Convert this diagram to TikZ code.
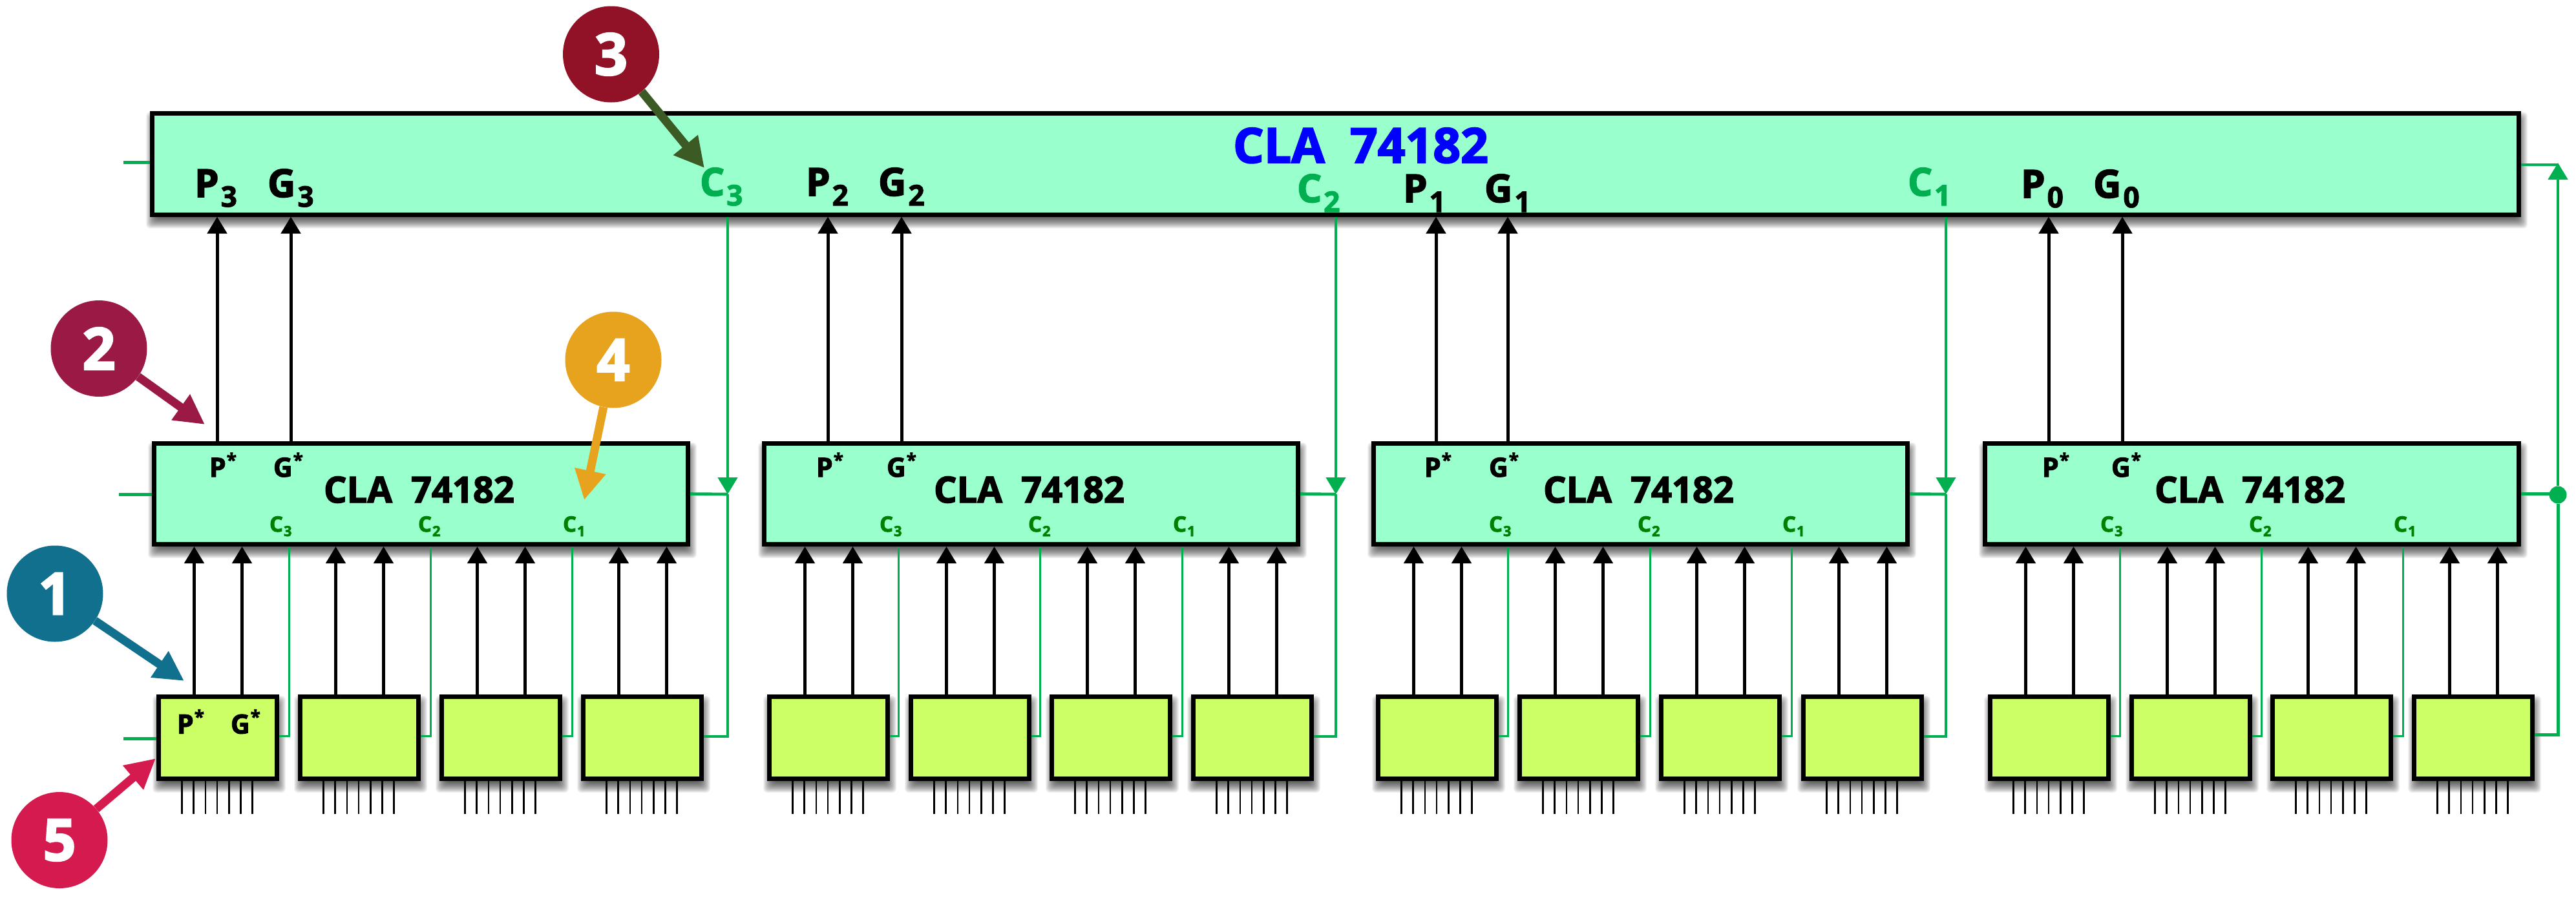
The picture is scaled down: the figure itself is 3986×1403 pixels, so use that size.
\documentclass[tikz,border=0pt]{standalone}
\usepackage{fontspec}
\setmainfont{Open Sans}[BoldFeatures={FakeBold=2.6}]
\usetikzlibrary{arrows.meta}
\pgfdeclarelayer{bg}
\pgfsetlayers{bg,main}
\definecolor{boxgreen}{HTML}{99FFCC}
\definecolor{lime}{HTML}{CCFF66}
\definecolor{wire}{HTML}{00B050}
\definecolor{dkgreen}{HTML}{008000}
\definecolor{cOne}{HTML}{12708F}
\definecolor{cTwo}{HTML}{9B1A45}
\definecolor{cThree}{HTML}{911226}
\definecolor{cFour}{HTML}{E8A31E}
\definecolor{cFive}{HTML}{D41A4E}
\definecolor{aThree}{HTML}{3C5A24}
\newcommand{\fs}[1]{\fontsize{#1pt}{#1pt}\selectfont\bfseries}
\newcommand{\bigsym}[3]{{\fs{60}#1\kern#3pt\raisebox{-15pt}{\fs{44}#2}}}
\newcommand{\midstar}[1]{{\fs{41}#1\kern1pt\raisebox{16pt}{\fs{28}*}}}
\newcommand{\midc}[1]{{\fs{33}C\kern1pt\raisebox{-7pt}{\fs{22}#1}}}
\newcommand{\softshadow}[1]{%
  \begin{pgfonlayer}{bg}
  \foreach \e in {-9,-8,...,8}{
    \fill[black,opacity=.05,rounded corners=6pt]
      ([shift={(2pt-\e pt,\e pt-10pt)}]#1.north west) rectangle ([shift={(2pt+\e pt,-10pt-\e pt)}]#1.south east);
  }
  \end{pgfonlayer}}
\tikzset{
  x=1pt,y=-1pt,
  bigbox/.style={draw=black,line width=7pt,fill=boxgreen,inner sep=0pt},
  smallbox/.style={draw=black,line width=7pt,fill=lime,inner sep=0pt,minimum width=183pt,minimum height=127pt},
  modbox/.style={bigbox,minimum width=826pt,minimum height=156pt},
  txt/.style={inner sep=0pt,outer sep=0pt,anchor=base west},
  blk/.style={draw=black,line width=5pt,-{Triangle[length=26pt,width=30pt]}},
  gwire/.style={draw=wire,line width=4.6pt},
  thin wire/.style={draw=wire,line width=3pt},
  garrow/.style={gwire,-{Triangle[length=26pt,width=30pt]}},
  pin/.style={draw=black,line width=2.6pt},
  badge/.style={circle,inner sep=0pt,minimum size=149pt,text=white,font=\fs{90}},
}
\begin{document}
\begin{tikzpicture}
\useasboundingbox (0,0) rectangle (3986,1403);
% top unit
\node[bigbox,minimum width=3662pt,minimum height=157pt] (T) at (2066.5,253.5) {};
\softshadow{T}
% second level modules
\foreach \g/\L in {1/235,2/1179,3/2122,4/3068}{
  \node[modbox,anchor=north west] (m\g) at (\L,683) {};
  \softshadow{m\g}
}
% first level blocks
\foreach \g/\a/\b/\c/\d in {1/242/461/680/899,2/1187/1406/1624/1843,3/2129/2348/2567/2787,4/3076/3295/3513/3732}{
  \foreach \i/\x in {1/\a,2/\b,3/\c,4/\d}{
    \node[smallbox,anchor=north west] (s\g\i) at (\x,1075) {};
    \softshadow{s\g\i}
  }
}
% black P/G buses from blocks to modules, and pins
\foreach \g in {1,2,3,4}{
  \foreach \i in {1,2,3,4}{
    \foreach \o in {58.5,132.5}{
      \coordinate (pa) at ([xshift=\o pt]s\g\i.north west);
      \draw[blk] (pa) -- (pa |- m\g.south);
    }
    \foreach \o in {39.5,57.7,75.9,94.1,112.3,130.5,148.7}{
      \coordinate (pb) at ([xshift=\o pt]s\g\i.south west);
      \coordinate (pe) at ([yshift=-51pt]pb);
      \draw[pin] (pb) -- (pe);
    }
  }
}
% P/G buses from modules to top unit
\foreach \g/\p/\q in {1/101/215,2/102/216,3/100/211,4/102/216}{
  \coordinate (pp) at ([xshift=\p pt]m\g.north west);
  \coordinate (qq) at ([xshift=\q pt]m\g.north west);
  \draw[blk] (pp) -- (pp |- T.south);
  \draw[blk] (qq) -- (qq |- T.south);
}
% thin carry wires from block to module
\foreach \g/\p/\q/\r in {1/447/666/885,2/1390/1609/1829,3/2333/2553/2772,4/3280/3499/3718}{
  \foreach \i/\x in {1/\p,2/\q,3/\r}{
    \coordinate (ce) at (\x,847);
    \draw[thin wire] ([yshift=3pt]s\g\i.east) -| (ce);
  }
}
% carry wires to next group
\foreach \g/\x in {1/1126,2/2067,3/3011}{
  \coordinate (tip\g) at (\x,765);
  \draw[gwire] ([yshift=2pt]s\g4.east) -| (tip\g);
  \draw[garrow] (tip\g |- T.south) -- (tip\g);
  \draw[gwire] (m\g.east) -- (tip\g);
}
% rightmost bus
\node[circle,fill=wire,inner sep=0pt,minimum size=27pt] (dot) at (3958,766) {};
\coordinate (rt) at (3958,252);
\coordinate (rb) at (3958,255);
\draw[gwire,line width=5pt] ([yshift=5pt]s44.east) -| (dot);
\draw[garrow] (dot) -- (rt);
\draw[gwire] (rb -| T.east) -- (rb);
\draw[gwire] (m4.east) -- (m4.east -| dot);
% input stubs
\coordinate (st) at (191,251);
\coordinate (sm) at (184,765);
\coordinate (sb) at (191,1143);
\draw[gwire,line width=5pt] (st) -- (st -| T.west);
\draw[gwire,line width=5pt] (sm) -- (sm -| m1.west);
\draw[gwire,line width=5pt] (sb) -- (sb -| s11.west);
% top labels
\node[txt,text=blue] (ttitle) at (1908,252) {\fs{75}CLA\ \ 74182};
\node[txt] (lp3) at (301,305) {\bigsym{P}{3}{3}};
\node[txt] (lg3) at (414,305) {\bigsym{G}{3}{3}};
\node[txt,text=wire] (lc3) at (1083,303) {\bigsym{C}{3}{3}};
\node[txt] (lp2) at (1247,303) {\bigsym{P}{2}{3}};
\node[txt] (lg2) at (1359,303) {\bigsym{G}{2}{3}};
\node[txt,text=wire] (lc2) at (2007,313) {\bigsym{C}{2}{3}};
\node[txt] (lp1) at (2171,313) {\bigsym{P}{1}{3}};
\node[txt] (lg1) at (2297,313) {\bigsym{G}{1}{3}};
\node[txt,text=wire] (lc1) at (2952,303) {\bigsym{C}{1}{3}};
\node[txt] (lp0) at (3127,306) {\bigsym{P}{0}{3}};
\node[txt] (lg0) at (3239,306) {\bigsym{G}{0}{3}};
% module labels
\foreach \g/\L/\p/\q in {1/235/92/190,2/1179/87/195,3/2122/85/184,4/3068/95/201}{
  \node[txt] (mt\g) at ({\L+266},778) {\fs{56}CLA\ \ 74182};
  \node[txt] (mp\g) at ({\L+\p-3},738) {\midstar{P}};
  \node[txt] (mg\g) at ({\L+\q-2},738) {\midstar{G}};
  \node[txt,text=dkgreen] (mca\g) at ({\L+182},823) {\midc{3}};
  \node[txt,text=dkgreen] (mcb\g) at ({\L+412},823) {\midc{2}};
  \node[txt,text=dkgreen] (mcc\g) at ({\L+636},823) {\midc{1}};
}
% block labels
\node[txt] (sp) at (274,1135.5) {\midstar{P}};
\node[txt] (sg) at (357,1135.5) {\midstar{G}};
% callouts
\node[badge,fill=cOne] (b1) at (85,919) {1};
\node[badge,fill=cTwo] (b2) at (153,539.5) {2};
\node[badge,fill=cThree] (b3) at (945.5,84) {3};
\node[badge,fill=cFour] (b4) at (949,557) {4};
\node[badge,fill=cFive] (b5) at (92,1300.5) {5};
\coordinate (t1) at (285,1054);
\coordinate (t2) at (317,657);
\coordinate (t3) at (1090,260);
\coordinate (t4) at (904,774);
\coordinate (t5) at (241,1174);
\tikzset{call/.style={line width=13pt,-{Triangle[length=46pt,width=46pt]}}}
\draw[call,draw=cOne,fill=cOne] (b1) -- (t1);
\draw[call,draw=cTwo,fill=cTwo] (b2) -- (t2);
\draw[call,draw=aThree,fill=aThree] (b3) -- (t3);
\draw[call,draw=cFour,fill=cFour] (b4) -- (t4);
\draw[call,draw=cFive,fill=cFive] (b5) -- (t5);
\end{tikzpicture}
\end{document}
